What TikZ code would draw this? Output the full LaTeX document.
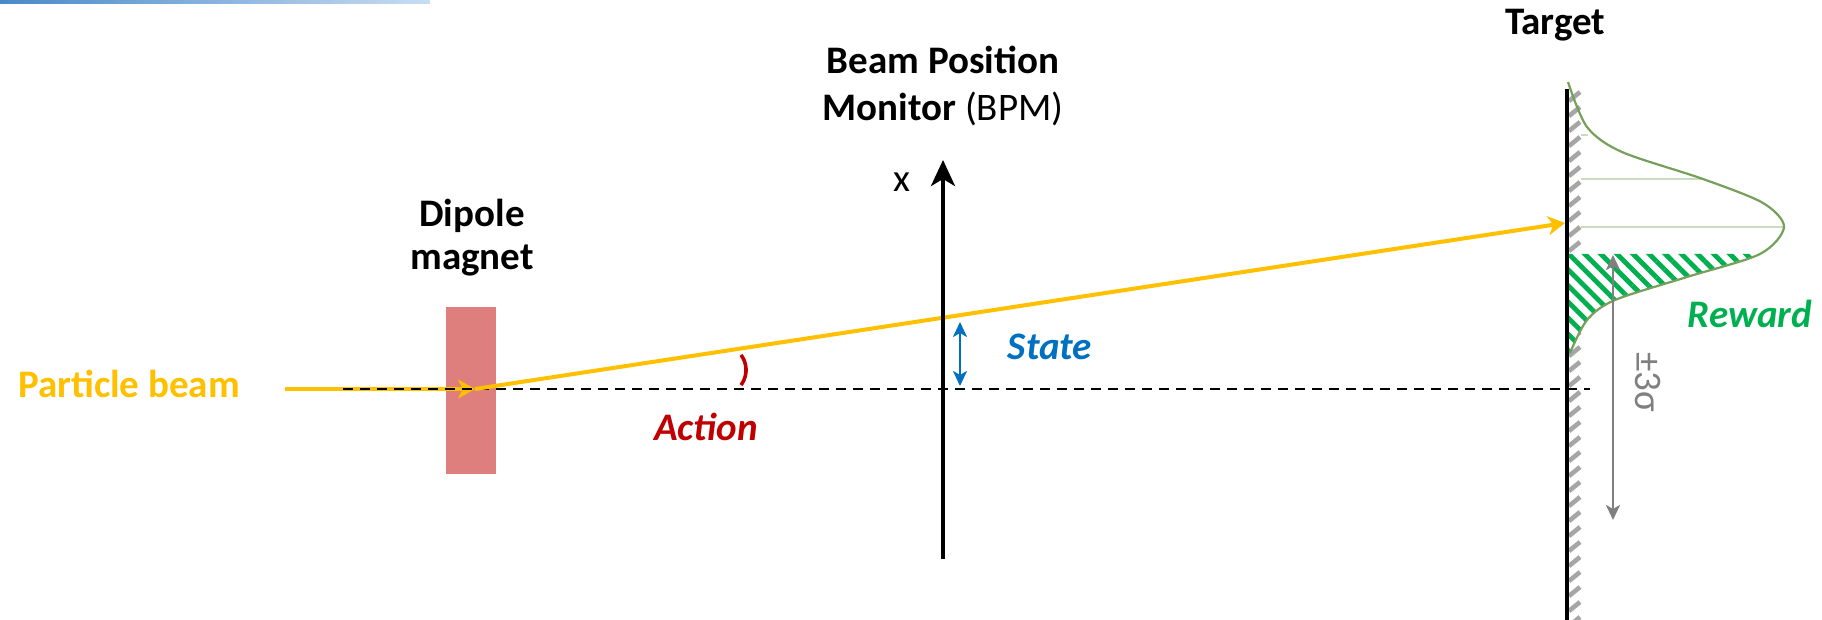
\documentclass[tikz,border=0pt]{standalone}
\usepackage{fontspec}
\setmainfont{Carlito}
\usetikzlibrary{arrows.meta,patterns.meta}
\definecolor{beamyellow}{HTML}{FFC000}
\definecolor{magnetred}{HTML}{DE7F7E}
\definecolor{actionred}{HTML}{C00000}
\definecolor{stateblue}{HTML}{0070C0}
\definecolor{rewardgreen}{HTML}{00B050}
\definecolor{curvegreen}{HTML}{74A05A}
\definecolor{levelgreen}{HTML}{CADCBF}
\definecolor{sigmagray}{HTML}{808080}
\definecolor{wallgray}{HTML}{A6A6A6}
\definecolor{barleft}{HTML}{4A89C8}
\definecolor{barright}{HTML}{C8DDF3}
\begin{document}
\begin{tikzpicture}[x=0.5pt,y=-0.5pt,
  lbl/.style={font=\fontsize{19.5}{23.5}\selectfont\bfseries, inner sep=0pt, align=center},
  ilbl/.style={lbl, font=\fontsize{19.5}{23.5}\selectfont\bfseries\itshape},
  beamline/.style={beamyellow, line width=2pt},
  axisline/.style={black, line width=1.2pt, dash pattern=on 5pt off 3.5pt},
  beamtip/.style={-{Stealth[length=8.5pt,width=9.5pt,inset=2.5pt]}},
  twoway/.style={line width=1.3pt, {Stealth[length=7.5pt,width=7pt,inset=2pt]}-{Stealth[length=7.5pt,width=7pt,inset=2pt]}}]
  \useasboundingbox (0,0) rectangle (1822,620);
  \shade[left color=barleft, right color=barright] (0,0) rectangle (430,4);

  \coordinate (beamin) at (285,389);
  \coordinate (kick) at (475,389);
  \coordinate (axisstart) at (343,389);
  \coordinate (axisend) at (1590,389);
  \coordinate (hit) at (1565,223);
  \coordinate (bpmbottom) at (943,559);
  \coordinate (bpmtop) at (943,160);
  \coordinate (stateup) at (960,322);
  \coordinate (statedown) at (960,386);
  \coordinate (sigmaup) at (1613,255);
  \coordinate (sigmadown) at (1613,520);
  \coordinate (walltop) at (1567,89);
  \coordinate (wallbottom) at (1567,620);

  \fill[magnetred] (446,307) rectangle (496,474);
  \draw[beamline, beamtip] (beamin) -- (kick);
  \draw[axisline] (axisstart) -- (axisend);
  \draw[beamline, beamtip] (kick) -- (hit);
  \draw[actionred, line width=1.8pt] plot[domain=-37:37, samples=20] ({721+25*cos(\x)},{370-25*sin(\x)});

  \draw[black, line width=1.8pt, -{Stealth[length=13pt,width=12pt,inset=3.5pt]}] (bpmbottom) -- (bpmtop);
  \draw[stateblue, twoway] (statedown) -- (stateup);

  \foreach \y in {92,107,...,617}
    \draw[wallgray, line width=2.3pt] (1569,\y+9) -- (1580,\y);
  \fill[white] (1568,254) -- (1760,254) -- plot[smooth] coordinates {(1760,254) (1687,277) (1615,300) (1587,320) (1570,353)} -- (1568,353) -- cycle;
  \fill[pattern={Lines[angle=-45,distance=5.7pt,line width=2.4pt]}, pattern color=rewardgreen] (1568,254) -- (1760,254) -- plot[smooth] coordinates {(1760,254) (1687,277) (1615,300) (1587,320) (1570,353)} -- (1568,353) -- cycle;
  \draw[levelgreen, line width=0.7pt] (1581,135) -- (1588,135);
  \draw[levelgreen, line width=0.7pt] (1581,179) -- (1703,179);
  \draw[levelgreen, line width=0.7pt] (1581,227) -- (1784,227);
  \draw[curvegreen, line width=1.1pt] plot[smooth] coordinates {(1568,82) (1587,127) (1622,152) (1703,179) (1763,203) (1784,227) (1760,254) (1687,277) (1615,300) (1587,320) (1570,353)};
  \draw[black, line width=2.4pt] (walltop) -- (wallbottom);
  \draw[sigmagray, twoway] (sigmaup) -- (sigmadown);

  \node[lbl, beamyellow, anchor=base] (beamlabel) at (129,398) {Particle beam};
  \node[lbl, font=\fontsize{19.5}{21.5}\selectfont\bfseries] (magnetlabel) at (472,238) {Dipole\\magnet};
  \node[lbl] (bpmlabel) at (943,86) {Beam Position\\Monitor \textmd{(BPM)}};
  \node[lbl, anchor=base] (targetlabel) at (1555,35) {Target};
  \node[lbl, font=\fontsize{19.5}{23.5}\selectfont] (xlabel) at (902,182) {x};
  \node[ilbl, stateblue, anchor=base] (statelabel) at (1050,360) {State};
  \node[ilbl, actionred, anchor=base] (actionlabel) at (706,440) {Action};
  \node[ilbl, rewardgreen, anchor=base] (rewardlabel) at (1750,328) {Reward};
  \node[lbl, font=\fontsize{19.5}{23.5}\selectfont, sigmagray, rotate=-90] (sigmalabel) at (1648,382) {±3σ};
\end{tikzpicture}
\end{document}
